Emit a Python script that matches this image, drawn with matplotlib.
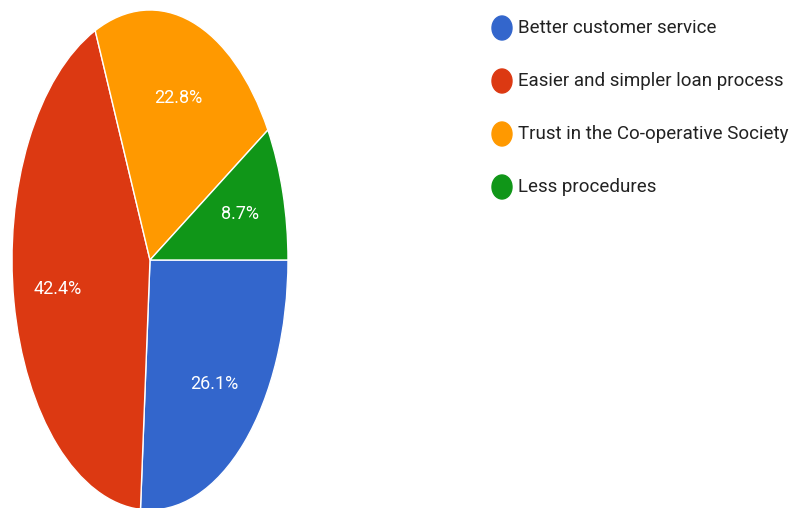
import matplotlib
matplotlib.use('Agg')
import matplotlib.pyplot as plt
from matplotlib.patches import Ellipse

# Dados do gráfico
categorias = ['Better customer service', 'Easier and simpler loan process',
              'Trust in the Co-operative Society', 'Less procedures']
percentuais = [26.1, 42.4, 22.8, 8.7]
cores = ['#3366CC', '#DC3912', '#FF9900', '#109618']

fonte = ['Roboto', 'DejaVu Sans']

fig = plt.figure(figsize=(7.9, 5.08), dpi=100)

# Pizza esticada na vertical (elipse)
ax = fig.add_axes([12 / 790, -2 / 508, 276 / 790, 500 / 508])
fatias, textos, autotextos = ax.pie(
    percentuais,
    colors=cores,
    startangle=0,
    counterclock=False,
    autopct='%1.1f%%',
    pctdistance=0.68,
    wedgeprops={'edgecolor': 'white', 'linewidth': 1},
    textprops={'color': 'white', 'fontsize': 13, 'family': fonte},
)
ax.set_aspect('auto')
ax.set_xlim(-1, 1)
ax.set_ylim(-1, 1)

# Legenda manual em coordenadas de pixel
leg = fig.add_axes([0, 0, 1, 1], zorder=-1)
leg.set_xlim(0, 790)
leg.set_ylim(508, 0)
leg.axis('off')
y0, passo = 28, 53
for i, (nome, cor) in enumerate(zip(categorias, cores)):
    y = y0 + i * passo
    leg.add_patch(Ellipse((502, y), 20, 24, color=cor))
    leg.text(518, y, nome, va='center', ha='left', fontsize=13.5,
             color='#222222', family=fonte)

fig.savefig('out.png', dpi=100)
plt.close(fig)
